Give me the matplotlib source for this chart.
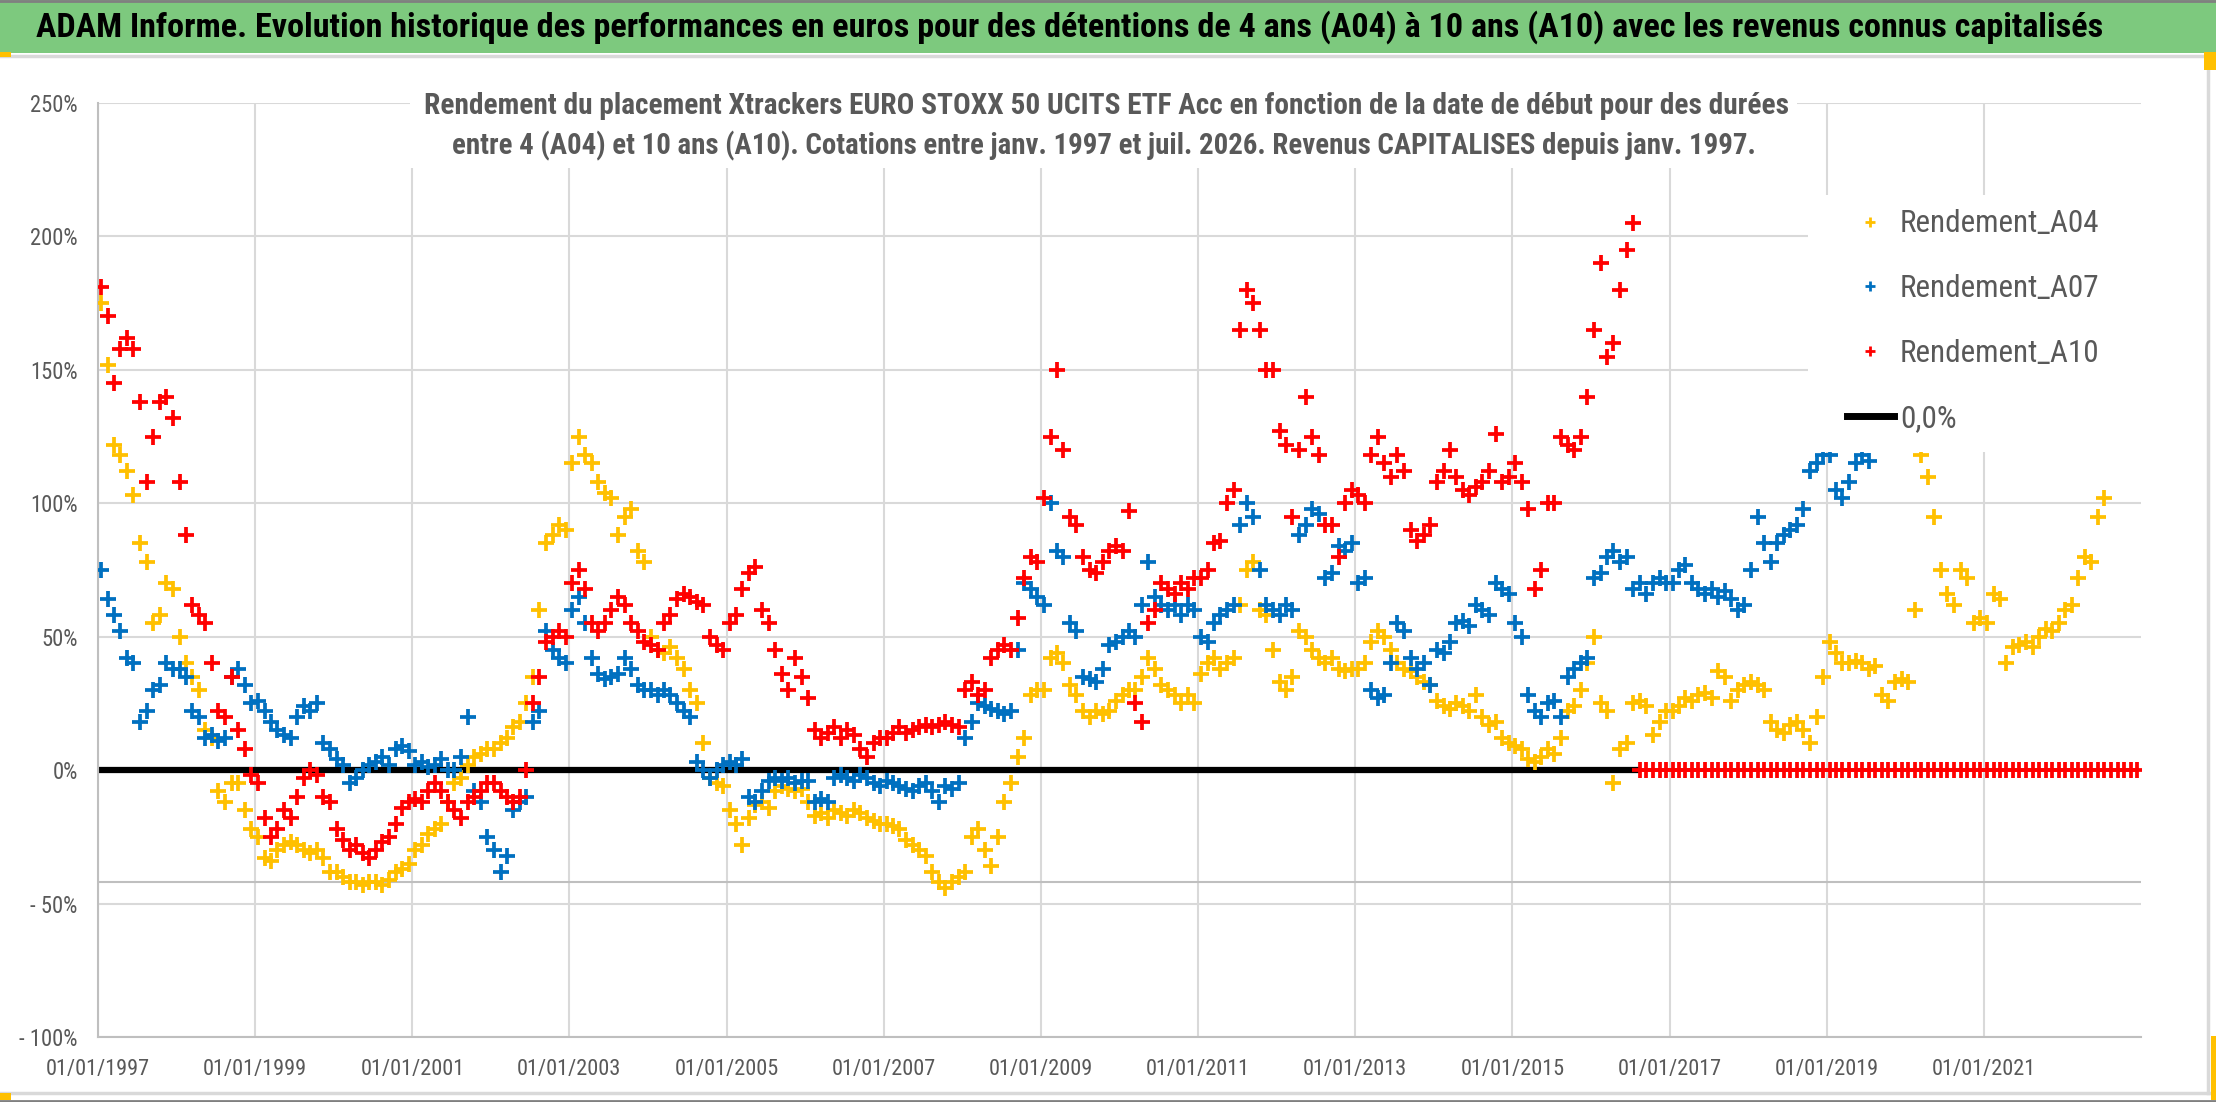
import matplotlib
matplotlib.use("Agg")
import matplotlib.pyplot as plt
import matplotlib.dates as mdates
from matplotlib import font_manager as fm
from matplotlib.lines import Line2D
from matplotlib.patches import Rectangle
import pandas as pd

# ---- pick a condensed sans font if one is installed ----
_entries = fm.fontManager.ttflist
_names = {f.name for f in _entries}
_cond_stretch = {"condensed", "semi-condensed", "extra-condensed", "ultra-condensed"}
FONT_NAME, FONT_STRETCH = None, "normal"
for p in ["Liberation Sans Narrow", "Roboto Condensed", "Open Sans Condensed",
          "Noto Sans Condensed", "Arial Narrow", "DejaVu Sans Condensed"]:
    if p in _names:
        FONT_NAME = p
        break
if FONT_NAME is None:
    for pref in ["DejaVu Sans", "Noto Sans", "Roboto", "Open Sans", "Liberation Sans"]:
        for f in _entries:
            if f.name == pref and str(f.stretch) in _cond_stretch:
                FONT_NAME, FONT_STRETCH = f.name, str(f.stretch)
                break
        if FONT_NAME:
            break
if FONT_NAME is None:
    for f in _entries:
        if str(f.stretch) in _cond_stretch or "Condensed" in f.name or "Narrow" in f.name:
            FONT_NAME = f.name
            FONT_STRETCH = str(f.stretch) if str(f.stretch) in _cond_stretch else "normal"
            break
if FONT_NAME is None:
    FONT_NAME = "DejaVu Sans"
plt.rcParams["font.family"] = [FONT_NAME, "DejaVu Sans"]
plt.rcParams["font.stretch"] = FONT_STRETCH

title = "ADAM Informe. Evolution historique des performances en euros pour des détentions de 4 ans (A04) à 10 ans (A10) avec les revenus connus capitalisés"
subtitle1 = "Rendement du placement Xtrackers EURO STOXX 50 UCITS ETF Acc en fonction de la date de début pour des durées"
subtitle2 = "entre 4 (A04) et 10 ans (A10). Cotations entre janv. 1997 et juil. 2026. Revenus CAPITALISES depuis janv. 1997."

series_names = ["Rendement_A04", "Rendement_A07", "Rendement_A10"]
zero_name = "0,0%"
zero_level = 0.0
ref_line = -42.0

yticks = [-100, -50, 0, 50, 100, 150, 200, 250]
ytick_labels = ["- 100%", "- 50%", "0%", "50%", "100%", "150%", "200%", "250%"]
xtick_years = [1997, 1999, 2001, 2003, 2005, 2007, 2009, 2011, 2013, 2015, 2017, 2019, 2021]
x_start, x_end = "1997-01-01", "2023-01-01"

# monthly readings (%), first value = January 1997
a04 = [
    175, 152, 122, 118, 112, 103, 85, 78, 55, 58, 70, 68,
    50, 40, 35, 30, 15, 12, -8, -12, -5, -5, -15, -22,
    -25, -33, -34, -30, -28, -27, -28, -30, -31, -30, -33, -38,
    -38, -40, -42, -42, -43, -42, -42, -43, -41, -38, -37, -35,
    -30, -28, -24, -22, -20, -12, -5, -3, 2, 5, 6, 8,
    8, 10, 12, 16, 18, 25, 35, 60, 85, 88, 92, 90,
    115, 125, 118, 115, 108, 104, 102, 88, 95, 98, 82, 78,
    50, 45, 44, 46, 42, 38, 30, 25, 10, -3, -5, -6,
    -15, -20, -28, -18, -13, -12, -14, -8, -6, -7, -8, -7,
    -12, -17, -16, -18, -15, -16, -17, -15, -16, -18, -19, -20,
    -20, -21, -22, -26, -28, -30, -32, -38, -42, -44, -42, -40,
    -38, -25, -22, -30, -36, -25, -12, -5, 5, 12, 28, 30,
    30, 42, 44, 40, 32, 28, 22, 20, 22, 21, 22, 26,
    28, 30, 30, 35, 42, 38, 32, 30, 28, 25, 28, 25,
    36, 40, 42, 38, 40, 42, 62, 75, 78, 60, 58, 45,
    33, 30, 35, 52, 50, 45, 42, 40, 42, 38, 37, 38,
    38, 40, 48, 52, 50, 45, 40, 38, 37, 35, 33, 32,
    26, 24, 23, 25, 24, 22, 28, 20, 17, 18, 12, 10,
    9, 8, 4, 3, 5, 8, 6, 12, 22, 24, 30, 40,
    50, 25, 22, -5, 8, 10, 25, 26, 24, 13, 18, 22,
    22, 24, 27, 26, 28, 29, 27, 37, 35, 26, 30, 32,
    33, 32, 30, 18, 15, 14, 17, 18, 15, 10, 20, 35,
    48, 44, 40, 40, 41, 40, 38, 39, 28, 26, 33, 34,
    33, 60, 118, 110, 95, 75, 66, 62, 75, 72, 55, 57,
    55, 66, 64, 40, 46, 47, 48, 46, 50, 53, 52, 55,
    60, 62, 72, 80, 78, 95, 102,
]
a07 = [
    75, 64, 58, 52, 42, 40, 18, 22, 30, 32, 40, 38,
    38, 35, 22, 20, 12, 13, 11, 12, 35, 38, 32, 25,
    26, 22, 18, 15, 13, 12, 20, 24, 22, 25, 10, 8,
    4, 2, -5, -3, 0, 2, 3, 5, 2, 8, 9, 7,
    2, 3, 1, 2, 4, 0, 0, 5, 20, -8, -12, -25,
    -30, -38, -32, -15, -12, -10, 18, 22, 52, 45, 42, 40,
    60, 65, 55, 42, 36, 34, 35, 36, 42, 38, 32, 30,
    30, 28, 30, 28, 25, 22, 20, 3, 0, -3, 0, 2,
    3, 2, 4, -10, -12, -8, -4, -3, -4, -3, -5, -4,
    -4, -12, -11, -12, -3, -2, -3, -4, -2, -3, -5, -6,
    -4, -5, -6, -7, -8, -6, -5, -8, -12, -6, -7, -5,
    12, 18, 25, 24, 23, 22, 21, 22, 45, 70, 68, 65,
    62, 100, 82, 80, 55, 52, 35, 34, 33, 38, 47, 48,
    50, 52, 50, 62, 78, 65, 62, 60, 62, 58, 62, 60,
    50, 48, 55, 58, 60, 62, 92, 100, 95, 75, 62, 60,
    58, 62, 60, 88, 92, 98, 96, 72, 74, 84, 82, 85,
    70, 72, 30, 27, 28, 40, 55, 52, 42, 38, 40, 32,
    45, 44, 48, 55, 56, 54, 62, 60, 58, 70, 68, 66,
    55, 50, 28, 22, 20, 25, 26, 20, 35, 38, 40, 42,
    72, 74, 80, 82, 78, 80, 68, 70, 66, 70, 72, 70,
    70, 75, 77, 70, 68, 66, 68, 65, 67, 64, 60, 62,
    75, 95, 85, 78, 85, 88, 90, 92, 98, 112, 115, 118,
    118, 105, 102, 108, 115, 118, 116,
]
a10 = [
    181, 170, 145, 158, 162, 158, 138, 108, 125, 138, 140, 132,
    108, 88, 62, 58, 55, 40, 22, 20, 35, 15, 8, -2,
    -5, -18, -25, -22, -15, -18, -10, -3, 0, -2, -10, -12,
    -22, -26, -30, -28, -31, -33, -30, -27, -25, -20, -14, -12,
    -11, -12, -8, -5, -8, -12, -15, -18, -12, -10, -8, -5,
    -5, -8, -10, -12, -10, 0, 25, 35, 48, 50, 52, 50,
    70, 75, 68, 55, 52, 55, 60, 65, 62, 55, 52, 48,
    47, 45, 55, 58, 64, 66, 65, 63, 62, 50, 47, 45,
    55, 58, 68, 74, 76, 60, 55, 45, 36, 30, 42, 35,
    27, 15, 12, 14, 16, 12, 15, 13, 8, 5, 10, 12,
    12, 14, 16, 14, 15, 16, 17, 16, 17, 18, 17, 16,
    30, 33, 28, 30, 42, 45, 47, 45, 57, 72, 80, 78,
    102, 125, 150, 120, 95, 92, 80, 75, 74, 78, 82, 84,
    82, 97, 25, 18, 55, 60, 70, 68, 66, 70, 68, 72,
    72, 75, 85, 86, 100, 105, 165, 180, 175, 165, 150, 150,
    127, 122, 95, 120, 140, 125, 118, 92, 92, 80, 100, 105,
    103, 100, 118, 125, 115, 110, 118, 112, 90, 86, 88, 92,
    108, 112, 120, 110, 105, 103, 106, 108, 112, 126, 108, 110,
    115, 108, 98, 68, 75, 100, 100, 125, 122, 120, 125, 140,
    165, 190, 155, 160, 180, 195, 205, 0, 0, 0, 0, 0,
    0, 0, 0, 0, 0, 0, 0, 0, 0, 0, 0, 0,
    0, 0, 0, 0, 0, 0, 0, 0, 0, 0, 0, 0,
    0, 0, 0, 0, 0, 0, 0, 0, 0, 0, 0, 0,
    0, 0, 0, 0, 0, 0, 0, 0, 0, 0, 0, 0,
    0, 0, 0, 0, 0, 0, 0, 0, 0, 0, 0, 0,
    0, 0, 0, 0, 0, 0, 0, 0, 0, 0, 0, 0,
]

colors = ["#FFC000", "#0070C0", "#FF0000"]
GRAY_TXT = "#595959"
GRID = "#D9D9D9"

W, H = 2216, 1102
fig = plt.figure(figsize=(W / 100, H / 100), dpi=100)
fig.patch.set_facecolor("white")
renderer = fig.canvas.get_renderer()


def fx(px):
    return px / W


def fy(py):
    return 1 - py / H


def size_for(text, width_px, base=20, **kw):
    t = fig.text(0, 0, text, fontsize=base, **kw)
    w = t.get_window_extent(renderer).width
    t.remove()
    return base * width_px / w


ax_l, ax_r, ax_t, ax_b = 98, 2141, 103, 1037
ax = fig.add_axes([fx(ax_l), fy(ax_b), (ax_r - ax_l) / W, (ax_b - ax_t) / H])

# ---- data ----
for vals, col, name in zip([a04, a07, a10], colors, series_names):
    d = pd.date_range(x_start, periods=len(vals), freq="MS") + pd.Timedelta(days=14)
    ax.plot(d, vals, linestyle="none", marker="+", ms=11, mew=2.7, color=col,
            zorder=3, label=name)

# the 0,0% line is hidden by the A10 zero values where they start
a10_dates = pd.date_range(x_start, periods=len(a10), freq="MS") + pd.Timedelta(days=14)
last_nonzero = max(i for i, v in enumerate(a10) if v != 0)
zero_end = a10_dates[last_nonzero + 1]
ax.plot([pd.Timestamp(x_start), zero_end], [zero_level, zero_level], color="black",
        lw=4.5, zorder=2.5, solid_capstyle="butt")
ax.axhline(ref_line, color="#BFBFBF", lw=1.5, zorder=1)

ax.set_xlim(pd.Timestamp(x_start), pd.Timestamp(x_end))
ax.set_ylim(yticks[0], yticks[-1])
ax.set_yticks(yticks)
ax.set_yticklabels(ytick_labels)
ax.set_xticks([pd.Timestamp(f"{y}-01-01") for y in xtick_years])
ax.xaxis.set_major_formatter(mdates.DateFormatter("%d/%m/%Y"))
ax.grid(True, color=GRID, lw=1.5, zorder=0)
ax.set_axisbelow(True)
for s in ["top", "right"]:
    ax.spines[s].set_visible(False)
for s in ["left", "bottom"]:
    ax.spines[s].set_color("#BFBFBF")
    ax.spines[s].set_linewidth(1.5)
xs = size_for("01/01/1997", 104)
ys = size_for("250%", 48)
ax.tick_params(axis="both", length=0, colors=GRAY_TXT)
ax.tick_params(axis="y", labelsize=ys, pad=14.5)
ax.tick_params(axis="x", labelsize=xs, pad=16)

# ---- legend area (white box covering data) ----
ax.add_patch(Rectangle((0.837, 0.626), 0.163, 0.275, transform=ax.transAxes,
                       facecolor="white", edgecolor="none", zorder=4))
ls = size_for("Rendement_A04", 200)
handles = [Line2D([], [], linestyle="none", marker="+", ms=7, mew=2.0, color=c) for c in colors]
handles.append(Line2D([], [], color="black", lw=5))
leg = ax.legend(handles, series_names + [zero_name], loc="upper left",
                bbox_to_anchor=(0.856, 0.886), frameon=False, borderaxespad=0,
                borderpad=0, handlelength=1.5, handletextpad=0.2,
                labelspacing=1.15, fontsize=ls, labelcolor=GRAY_TXT)
leg.set_zorder(6)

# ---- frame / header band ----
fig.patches.append(Rectangle((0, fy(53)), 1, 53 / H, transform=fig.transFigure,
                             facecolor="#7DC97E", edgecolor="none", zorder=0))
fig.add_artist(Line2D([0, 1], [fy(1), fy(1)], transform=fig.transFigure, color="#808080", lw=2))
fig.add_artist(Line2D([0, 1], [fy(56), fy(56)], transform=fig.transFigure, color="#D9D9D9", lw=2.5))
fig.add_artist(Line2D([0, 1], [fy(1093), fy(1093)], transform=fig.transFigure, color="#D9D9D9", lw=2.5))
fig.add_artist(Line2D([0, 1], [fy(1101), fy(1101)], transform=fig.transFigure, color="#808080", lw=2))
fig.add_artist(Line2D([fx(2208), fx(2208)], [fy(56), fy(1093)], transform=fig.transFigure, color="#D9D9D9", lw=2.5))
for (x0, y0, w, h) in [(0, 52, 11, 5), (2204, 52, 12, 18), (2211, 1036, 5, 64), (0, 1093, 11, 7)]:
    fig.patches.append(Rectangle((fx(x0), fy(y0 + h)), w / W, h / H, transform=fig.transFigure,
                                 facecolor="#FFC000", edgecolor="none", zorder=7))

# subtitle white box
fig.patches.append(Rectangle((fx(410), fy(168)), (1797 - 410) / W, (168 - 85) / H,
                             transform=fig.transFigure, facecolor="white",
                             edgecolor="none", zorder=1))

t_title = fig.text(fx(1070), fy(27), title, ha="center", va="center", fontsize=24,
                   fontweight="bold", color="black", zorder=8)
t_s1 = fig.text(fx(1106), fy(106), subtitle1, ha="center", va="center", fontsize=17,
                fontweight="bold", color=GRAY_TXT, zorder=8)
t_s2 = fig.text(fx(1104), fy(146), subtitle2, ha="center", va="center", fontsize=17,
                fontweight="bold", color=GRAY_TXT, zorder=8)
for t, wpx in [(t_title, 2075), (t_s1, 1368), (t_s2, 1303)]:
    w = t.get_window_extent(renderer).width
    t.set_fontsize(t.get_fontsize() * wpx / w)

fig.savefig("out.png", dpi=100, facecolor="white")
